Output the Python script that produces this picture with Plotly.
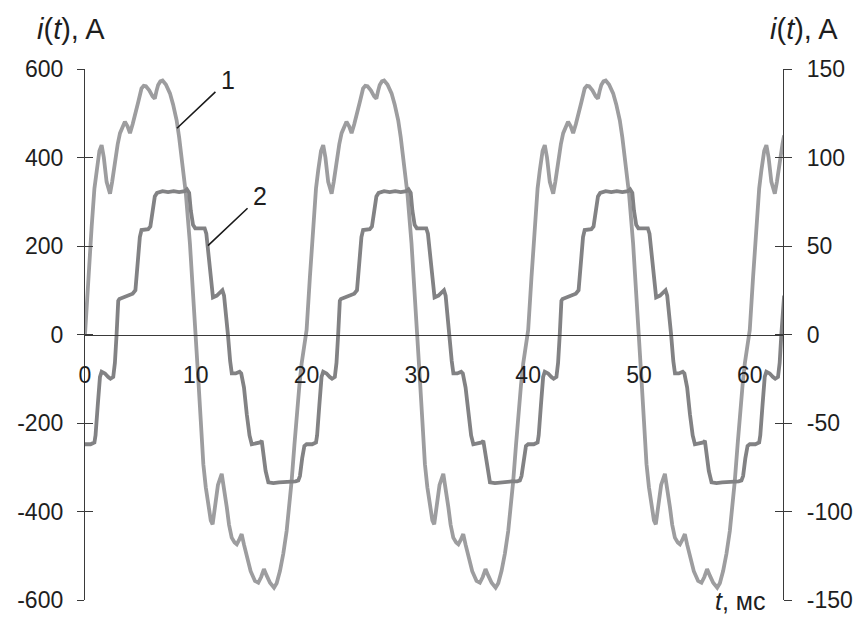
import plotly.graph_objects as go

# Time axis, ms
t1 = [
    0.0, 0.3, 0.6, 0.85, 1.05, 1.3, 1.5, 1.7, 1.95, 2.26, 2.45, 2.7, 2.95, 3.16, 3.4, 3.6, 3.85, 4.06, 4.3, 4.5,
    4.8, 5.1, 5.3, 5.5, 5.8, 6.1, 6.3, 6.45, 6.6, 6.8, 7.0, 7.3, 7.67, 7.95, 8.27, 8.5, 8.72, 9.1, 9.47, 9.78,
    10.0, 10.2, 10.45, 10.68, 10.9, 11.13, 11.35, 11.52, 11.75, 12.0, 12.34, 12.55, 12.8, 13.0, 13.24, 13.5, 13.7, 13.9, 14.14, 14.35,
    14.6, 14.95, 15.34, 15.64, 15.9, 16.15, 16.4, 16.7, 17.06, 17.3, 17.6, 17.9, 18.2, 18.45, 18.65, 18.9, 19.1, 19.35, 19.55, 19.8,
    20.0, 20.3, 20.6, 20.85, 21.05, 21.3, 21.5, 21.7, 21.95, 22.26, 22.45, 22.7, 22.95, 23.16, 23.4, 23.6, 23.85, 24.06, 24.3, 24.5,
    24.8, 25.1, 25.3, 25.5, 25.8, 26.1, 26.3, 26.45, 26.6, 26.8, 27.0, 27.3, 27.67, 27.95, 28.27, 28.5, 28.72, 29.1, 29.47, 29.78,
    30.0, 30.2, 30.45, 30.68, 30.9, 31.13, 31.35, 31.52, 31.75, 32.0, 32.34, 32.55, 32.8, 33.0, 33.24, 33.5, 33.7, 33.9, 34.14, 34.35,
    34.6, 34.95, 35.34, 35.64, 35.9, 36.15, 36.4, 36.7, 37.06, 37.3, 37.6, 37.9, 38.2, 38.45, 38.65, 38.9, 39.1, 39.35, 39.55, 39.8,
    40.0, 40.3, 40.6, 40.85, 41.05, 41.3, 41.5, 41.7, 41.95, 42.26, 42.45, 42.7, 42.95, 43.16, 43.4, 43.6, 43.85, 44.06, 44.3, 44.5,
    44.8, 45.1, 45.3, 45.5, 45.8, 46.1, 46.3, 46.45, 46.6, 46.8, 47.0, 47.3, 47.67, 47.95, 48.27, 48.5, 48.72, 49.1, 49.47, 49.78,
    50.0, 50.2, 50.45, 50.68, 50.9, 51.13, 51.35, 51.52, 51.75, 52.0, 52.34, 52.55, 52.8, 53.0, 53.24, 53.5, 53.7, 53.9, 54.14, 54.35,
    54.6, 54.95, 55.34, 55.64, 55.9, 56.15, 56.4, 56.7, 57.06, 57.3, 57.6, 57.9, 58.2, 58.45, 58.65, 58.9, 59.1, 59.35, 59.55, 59.8,
    60.0, 60.3, 60.6, 60.85, 61.05, 61.3, 61.5, 61.7, 61.95, 62.26, 62.45, 62.7, 62.95, 63.1,
]

# Curve 1: current, A (left axis)
i1 = [
    0, 130, 243, 330, 371, 415, 428, 400, 345, 318, 345, 394, 430, 455, 470, 481, 470, 455, 475, 492,
    525, 556, 562, 561, 552, 538, 533, 550, 564, 572, 574, 565, 545, 520, 484, 445, 401, 319, 206, 92,
    0, -90, -195, -293, -345, -391, -420, -429, -390, -340, -315, -345, -391, -430, -459, -470, -474, -465, -451, -475,
    -504, -535, -557, -561, -548, -530, -545, -561, -572, -562, -534, -495, -444, -390, -331, -250, -180, -115, -66, -20,
    10, 130, 243, 330, 371, 415, 428, 400, 345, 318, 345, 394, 430, 455, 470, 481, 470, 455, 475, 492,
    525, 556, 562, 561, 552, 538, 533, 550, 564, 572, 574, 565, 545, 520, 484, 445, 401, 319, 206, 92,
    0, -90, -195, -293, -345, -391, -420, -429, -390, -340, -315, -345, -391, -430, -459, -470, -474, -465, -451, -475,
    -504, -535, -557, -561, -548, -530, -545, -561, -572, -562, -534, -495, -444, -390, -331, -250, -180, -115, -66, -20,
    10, 130, 243, 330, 371, 415, 428, 400, 345, 318, 345, 394, 430, 455, 470, 481, 470, 455, 475, 492,
    525, 556, 562, 561, 552, 538, 533, 550, 564, 572, 574, 565, 545, 520, 484, 445, 401, 319, 206, 92,
    0, -90, -195, -293, -345, -391, -420, -429, -390, -340, -315, -345, -391, -430, -459, -470, -474, -465, -451, -475,
    -504, -535, -557, -561, -548, -530, -545, -561, -572, -562, -534, -495, -444, -390, -331, -250, -180, -115, -66, -20,
    10, 130, 243, 330, 371, 415, 428, 400, 345, 318, 345, 394, 430, 450,
]

t2 = [
    0.0, 0.5, 0.85, 0.95, 1.15, 1.35, 1.5, 1.8, 2.1, 2.3, 2.55, 2.7, 2.85, 3.0, 3.1, 3.5, 3.9, 4.3, 4.55, 4.75,
    4.95, 5.1, 5.4, 5.7, 5.9, 6.1, 6.3, 6.5, 7.0, 7.5, 8.0, 8.5, 9.0, 9.2, 9.4, 9.55, 9.75, 9.95, 10.4, 10.8,
    10.95, 11.15, 11.35, 11.55, 11.9, 12.2, 12.4, 12.55, 12.7, 12.9, 13.1, 13.25, 13.6, 13.95, 14.1, 14.35, 14.6, 14.85, 15.05, 15.4,
    15.8, 15.95, 16.1, 16.3, 16.55, 17.0, 17.5, 18.0, 18.5, 19.0, 19.25, 19.4, 19.6, 19.8,
    20.0, 20.5, 20.85, 20.95, 21.15, 21.35, 21.5, 21.8, 22.1, 22.3, 22.55, 22.7, 22.85, 23.0, 23.1, 23.5, 23.9, 24.3, 24.55, 24.75,
    24.95, 25.1, 25.4, 25.7, 25.9, 26.1, 26.3, 26.5, 27.0, 27.5, 28.0, 28.5, 29.0, 29.2, 29.4, 29.55, 29.75, 29.95, 30.4, 30.8,
    30.95, 31.15, 31.35, 31.55, 31.9, 32.2, 32.4, 32.55, 32.7, 32.9, 33.1, 33.25, 33.6, 33.95, 34.1, 34.35, 34.6, 34.85, 35.05, 35.4,
    35.8, 35.95, 36.1, 36.3, 36.55, 37.0, 37.5, 38.0, 38.5, 39.0, 39.25, 39.4, 39.6, 39.8,
    40.0, 40.5, 40.85, 40.95, 41.15, 41.35, 41.5, 41.8, 42.1, 42.3, 42.55, 42.7, 42.85, 43.0, 43.1, 43.5, 43.9, 44.3, 44.55, 44.75,
    44.95, 45.1, 45.4, 45.7, 45.9, 46.1, 46.3, 46.5, 47.0, 47.5, 48.0, 48.5, 49.0, 49.2, 49.4, 49.55, 49.75, 49.95, 50.4, 50.8,
    50.95, 51.15, 51.35, 51.55, 51.9, 52.2, 52.4, 52.55, 52.7, 52.9, 53.1, 53.25, 53.6, 53.95, 54.1, 54.35, 54.6, 54.85, 55.05, 55.4,
    55.8, 55.95, 56.1, 56.3, 56.55, 57.0, 57.5, 58.0, 58.5, 59.0, 59.25, 59.4, 59.6, 59.8,
    60.0, 60.5, 60.85, 60.95, 61.15, 61.35, 61.5, 61.8, 62.1, 62.3, 62.55, 62.7, 62.85, 63.0, 63.1,
]

# Curve 2: current, A (right axis)
i2 = [
    -62, -62, -61, -57, -40, -24, -21, -22, -24, -25, -24, -16, 0, 19, 20, 21, 22, 23, 25, 38,
    55, 59, 59, 59.5, 61, 70, 78, 80, 81, 80.5, 81, 80.5, 81, 82, 80, 70, 62, 60, 60, 60,
    57, 45, 30, 21, 22, 24, 25, 22, 10, 0, -15, -22, -22, -21, -22, -30, -45, -57, -62, -61.5,
    -61, -60, -66, -77, -83.5, -84, -83.5, -83.5, -83, -83, -82.5, -80, -70, -63,
    -62, -62, -61, -57, -40, -24, -21, -22, -24, -25, -24, -16, 0, 19, 20, 21, 22, 23, 25, 38,
    55, 59, 59, 59.5, 61, 70, 78, 80, 81, 80.5, 81, 80.5, 81, 82, 80, 70, 62, 60, 60, 60,
    57, 45, 30, 21, 22, 24, 25, 22, 10, 0, -15, -22, -22, -21, -22, -30, -45, -57, -62, -61.5,
    -61, -60, -66, -77, -83.5, -84, -83.5, -83.5, -83, -83, -82.5, -80, -70, -63,
    -62, -62, -61, -57, -40, -24, -21, -22, -24, -25, -24, -16, 0, 19, 20, 21, 22, 23, 25, 38,
    55, 59, 59, 59.5, 61, 70, 78, 80, 81, 80.5, 81, 80.5, 81, 82, 80, 70, 62, 60, 60, 60,
    57, 45, 30, 21, 22, 24, 25, 22, 10, 0, -15, -22, -22, -21, -22, -30, -45, -57, -62, -61.5,
    -61, -60, -66, -77, -83.5, -84, -83.5, -83.5, -83, -83, -82.5, -80, -70, -63,
    -62, -62, -61, -57, -40, -24, -21, -22, -24, -25, -24, -16, 0, 19, 22,
]

x_ticks = [0, 10, 20, 30, 40, 50, 60]
left_ticks = [-600, -400, -200, 0, 200, 400, 600]
left_labels = ["-600", "-400", "-200", "0", "200", "400", "600"]
right_ticks = [-150, -100, -50, 0, 50, 100, 150]
right_labels = ["-150", "-100", "-50", "0", "50", "100", "150"]

FONT = "Liberation Sans, Arial, sans-serif"
AXIS_COLOR = "#3a3a3a"
TICK_FONT = dict(family=FONT, size=23, color="#1e1e1e")

fig = go.Figure()
fig.add_trace(go.Scatter(x=t1, y=i1, mode="lines", yaxis="y",
                         line=dict(color="#9d9d9f", width=3.8), showlegend=False))
fig.add_trace(go.Scatter(x=t2, y=i2, mode="lines", yaxis="y2",
                         line=dict(color="#828284", width=3.8), showlegend=False))
# Empty traces so the cross-tick overlay axes get drawn
fig.add_trace(go.Scatter(x=[], y=[], yaxis="y3", showlegend=False, hoverinfo="skip"))
fig.add_trace(go.Scatter(x=[], y=[], yaxis="y4", showlegend=False, hoverinfo="skip"))

fig.update_layout(
    width=856, height=618,
    margin=dict(l=85, r=73, t=69, b=18),
    paper_bgcolor="white", plot_bgcolor="white",
    showlegend=False,
    xaxis=dict(range=[0, 63], tickvals=x_ticks, ticks="", showgrid=False, zeroline=False,
               showline=True, linecolor=AXIS_COLOR, linewidth=1.3, automargin=False,
               anchor="free", position=0.5, ticklabelstandoff=20, tickfont=TICK_FONT),
    yaxis=dict(range=[-600, 600], tickvals=left_ticks, ticktext=left_labels,
               ticks="outside", ticklen=7, automargin=False,
               tickcolor=AXIS_COLOR, tickwidth=1.2, showline=True, linecolor=AXIS_COLOR,
               linewidth=1.3, showgrid=False, zeroline=False, ticklabelstandoff=9,
               tickfont=TICK_FONT),
    yaxis2=dict(range=[-150, 150], tickvals=right_ticks, ticktext=right_labels,
                ticks="outside", ticklen=8, automargin=False,
                tickcolor=AXIS_COLOR, tickwidth=1.2, showline=True, linecolor=AXIS_COLOR,
                linewidth=1.3, showgrid=False, zeroline=False, overlaying="y", side="right",
                ticklabelstandoff=10, tickfont=TICK_FONT),
    yaxis3=dict(range=[-600, 600], tickvals=left_ticks, ticks="inside", ticklen=8,
                tickcolor=AXIS_COLOR, tickwidth=1.2, showticklabels=False, showline=False,
                showgrid=False, zeroline=False, overlaying="y", side="left", automargin=False),
    yaxis4=dict(range=[-150, 150], tickvals=right_ticks, ticks="inside", ticklen=8,
                tickcolor=AXIS_COLOR, tickwidth=1.2, showticklabels=False, showline=False,
                showgrid=False, zeroline=False, overlaying="y", side="right", automargin=False),
)

title_font = dict(family=FONT, size=29, color="#1e1e1e")
fig.add_annotation(text="<i>i</i>(<i>t</i>), A", xref="paper", yref="paper",
                   x=-0.072, y=1.075, xanchor="left", yanchor="middle",
                   showarrow=False, font=title_font)
fig.add_annotation(text="<i>i</i>(<i>t</i>), A", xref="paper", yref="paper",
                   x=0.978, y=1.075, xanchor="left", yanchor="middle",
                   showarrow=False, font=title_font)
fig.add_annotation(text="<i>t</i>, мс", xref="paper", yref="paper",
                   x=0.977, y=-0.031, xanchor="right", yanchor="bottom",
                   borderpad=0, showarrow=False,
                   font=dict(family=FONT, size=25, color="#1e1e1e"))

# Curve labels with leader lines
label_font = dict(family=FONT, size=25, color="#1e1e1e")
fig.add_annotation(text="1", x=8.3, y=466, xref="x", yref="y",
                   ax=12.9, ay=575, axref="x", ayref="y",
                   showarrow=True, arrowhead=0, arrowwidth=1.6, arrowcolor="#1a1a1a",
                   borderpad=5, font=label_font)
fig.add_annotation(text="2", x=11.1, y=201, xref="x", yref="y",
                   ax=15.8, ay=312, axref="x", ayref="y",
                   showarrow=True, arrowhead=0, arrowwidth=1.6, arrowcolor="#1a1a1a",
                   borderpad=5, font=label_font)

fig.write_html("out.html")
